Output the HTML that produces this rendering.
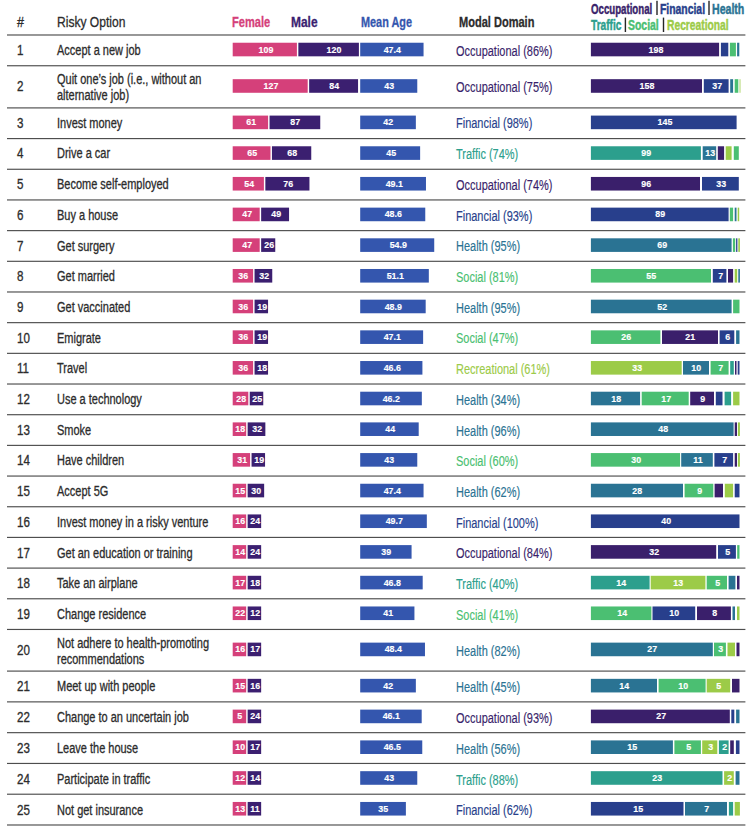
<!DOCTYPE html>
<html><head><meta charset="utf-8"><style>
html,body{margin:0;padding:0;background:#fff;}
body{width:753px;height:835px;position:relative;overflow:hidden;font-family:"Liberation Sans", sans-serif;}
.t{position:absolute;white-space:nowrap;line-height:1;transform-origin:0 0;-webkit-text-stroke:0.3px currentColor;}
.r{position:absolute;}
.lb{position:absolute;color:#fff;font-weight:bold;text-align:center;line-height:1;white-space:nowrap;}
.lb span{display:inline-block;transform:scaleX(0.93);-webkit-text-stroke:0.15px #fff;}
.ln{position:absolute;left:7px;width:738.4px;height:2px;background:#4d4d4d;}
</style></head><body>
<svg width="753" height="835" style="position:absolute;left:0;top:0" shape-rendering="geometricPrecision">
<rect x="7" y="34.42" width="738.4" height="1.15" fill="#4d4d4d"/>
<rect x="7" y="65.17" width="738.4" height="1.15" fill="#4d4d4d"/>
<rect x="7" y="107.33" width="738.4" height="1.15" fill="#4d4d4d"/>
<rect x="7" y="138.01" width="738.4" height="1.15" fill="#4d4d4d"/>
<rect x="7" y="168.69" width="738.4" height="1.15" fill="#4d4d4d"/>
<rect x="7" y="199.37" width="738.4" height="1.15" fill="#4d4d4d"/>
<rect x="7" y="230.05" width="738.4" height="1.15" fill="#4d4d4d"/>
<rect x="7" y="260.73" width="738.4" height="1.15" fill="#4d4d4d"/>
<rect x="7" y="291.41" width="738.4" height="1.15" fill="#4d4d4d"/>
<rect x="7" y="322.08" width="738.4" height="1.15" fill="#4d4d4d"/>
<rect x="7" y="352.77" width="738.4" height="1.15" fill="#4d4d4d"/>
<rect x="7" y="383.44" width="738.4" height="1.15" fill="#4d4d4d"/>
<rect x="7" y="414.13" width="738.4" height="1.15" fill="#4d4d4d"/>
<rect x="7" y="444.81" width="738.4" height="1.15" fill="#4d4d4d"/>
<rect x="7" y="475.48" width="738.4" height="1.15" fill="#4d4d4d"/>
<rect x="7" y="506.17" width="738.4" height="1.15" fill="#4d4d4d"/>
<rect x="7" y="536.84" width="738.4" height="1.15" fill="#4d4d4d"/>
<rect x="7" y="567.52" width="738.4" height="1.15" fill="#4d4d4d"/>
<rect x="7" y="598.20" width="738.4" height="1.15" fill="#4d4d4d"/>
<rect x="7" y="628.88" width="738.4" height="1.15" fill="#4d4d4d"/>
<rect x="7" y="670.52" width="738.4" height="1.15" fill="#4d4d4d"/>
<rect x="7" y="701.30" width="738.4" height="1.15" fill="#4d4d4d"/>
<rect x="7" y="732.09" width="738.4" height="1.15" fill="#4d4d4d"/>
<rect x="7" y="762.87" width="738.4" height="1.15" fill="#4d4d4d"/>
<rect x="7" y="793.64" width="738.4" height="1.15" fill="#4d4d4d"/>
<rect x="7" y="824.42" width="738.4" height="1.15" fill="#4d4d4d"/>
<rect x="656.3" y="0.8" width="1.4" height="14.2" fill="#262626"/>
<rect x="708.3" y="0.8" width="1.4" height="14.2" fill="#262626"/>
<rect x="624.7" y="17.6" width="1.4" height="14.399999999999999" fill="#262626"/>
<rect x="662.8" y="17.6" width="1.4" height="14.399999999999999" fill="#262626"/>
<rect x="232.70" y="42.73" width="64.20" height="13.60" fill="#d5407a"/>
<rect x="298.35" y="42.73" width="60.55" height="13.60" fill="#3b1f70"/>
<rect x="360.20" y="42.73" width="63.35" height="13.60" fill="#3456ae"/>
<rect x="590.90" y="42.73" width="128.20" height="13.60" fill="#3a1f6b"/>
<rect x="720.90" y="42.73" width="7.40" height="13.60" fill="#283f8c"/>
<rect x="729.90" y="42.73" width="6.00" height="13.60" fill="#4bbf72"/>
<rect x="737.10" y="42.73" width="2.20" height="13.60" fill="#2a7393"/>
<rect x="232.70" y="79.18" width="75.00" height="13.60" fill="#d5407a"/>
<rect x="309.15" y="79.18" width="48.90" height="13.60" fill="#3b1f70"/>
<rect x="360.20" y="79.18" width="57.07" height="13.60" fill="#3456ae"/>
<rect x="590.90" y="79.18" width="111.10" height="13.60" fill="#3a1f6b"/>
<rect x="703.80" y="79.18" width="24.80" height="13.60" fill="#283f8c"/>
<rect x="730.20" y="79.18" width="2.90" height="13.60" fill="#2a7393"/>
<rect x="734.70" y="79.18" width="3.60" height="13.60" fill="#4bbf72"/>
<rect x="739.60" y="79.18" width="0.80" height="13.60" fill="#9ccb48"/>
<rect x="232.70" y="115.59" width="35.40" height="13.60" fill="#d5407a"/>
<rect x="269.55" y="115.59" width="50.70" height="13.60" fill="#3b1f70"/>
<rect x="360.20" y="115.59" width="55.65" height="13.60" fill="#3456ae"/>
<rect x="590.90" y="115.59" width="145.70" height="13.60" fill="#283f8c"/>
<rect x="232.70" y="146.27" width="37.80" height="13.60" fill="#d5407a"/>
<rect x="271.95" y="146.27" width="39.30" height="13.60" fill="#3b1f70"/>
<rect x="360.20" y="146.27" width="59.93" height="13.60" fill="#3456ae"/>
<rect x="590.90" y="146.27" width="110.00" height="13.60" fill="#2c9f8d"/>
<rect x="702.70" y="146.27" width="13.50" height="13.60" fill="#2a7393"/>
<rect x="717.80" y="146.27" width="6.30" height="13.60" fill="#3a1f6b"/>
<rect x="725.70" y="146.27" width="5.90" height="13.60" fill="#9ccb48"/>
<rect x="733.80" y="146.27" width="5.00" height="13.60" fill="#4bbf72"/>
<rect x="232.70" y="176.95" width="31.20" height="13.60" fill="#d5407a"/>
<rect x="265.35" y="176.95" width="44.10" height="13.60" fill="#3b1f70"/>
<rect x="360.20" y="176.95" width="65.77" height="13.60" fill="#3456ae"/>
<rect x="590.90" y="176.95" width="109.10" height="13.60" fill="#3a1f6b"/>
<rect x="702.00" y="176.95" width="36.80" height="13.60" fill="#283f8c"/>
<rect x="232.70" y="207.63" width="27.00" height="13.60" fill="#d5407a"/>
<rect x="261.15" y="207.63" width="27.90" height="13.60" fill="#3b1f70"/>
<rect x="360.20" y="207.63" width="65.06" height="13.60" fill="#3456ae"/>
<rect x="590.90" y="207.63" width="137.70" height="13.60" fill="#283f8c"/>
<rect x="729.80" y="207.63" width="3.30" height="13.60" fill="#4bbf72"/>
<rect x="734.70" y="207.63" width="1.80" height="13.60" fill="#2a7393"/>
<rect x="737.70" y="207.63" width="1.50" height="13.60" fill="#9ccb48"/>
<rect x="232.70" y="238.31" width="27.00" height="13.60" fill="#d5407a"/>
<rect x="261.15" y="238.31" width="14.10" height="13.60" fill="#3b1f70"/>
<rect x="360.20" y="238.31" width="74.03" height="13.60" fill="#3456ae"/>
<rect x="590.90" y="238.31" width="140.70" height="13.60" fill="#2a7393"/>
<rect x="732.90" y="238.31" width="2.30" height="13.60" fill="#4bbf72"/>
<rect x="736.10" y="238.31" width="1.30" height="13.60" fill="#283f8c"/>
<rect x="738.30" y="238.31" width="1.60" height="13.60" fill="#9ccb48"/>
<rect x="232.70" y="268.99" width="20.40" height="13.60" fill="#d5407a"/>
<rect x="254.55" y="268.99" width="17.70" height="13.60" fill="#3b1f70"/>
<rect x="360.20" y="268.99" width="68.62" height="13.60" fill="#3456ae"/>
<rect x="590.90" y="268.99" width="120.10" height="13.60" fill="#4bbf72"/>
<rect x="712.80" y="268.99" width="13.60" height="13.60" fill="#283f8c"/>
<rect x="728.00" y="268.99" width="5.10" height="13.60" fill="#3a1f6b"/>
<rect x="734.70" y="268.99" width="2.50" height="13.60" fill="#9ccb48"/>
<rect x="738.30" y="268.99" width="1.60" height="13.60" fill="#2a7393"/>
<rect x="232.70" y="299.67" width="20.40" height="13.60" fill="#d5407a"/>
<rect x="254.55" y="299.67" width="13.50" height="13.60" fill="#3b1f70"/>
<rect x="360.20" y="299.67" width="65.48" height="13.60" fill="#3456ae"/>
<rect x="590.90" y="299.67" width="140.70" height="13.60" fill="#2a7393"/>
<rect x="733.10" y="299.67" width="6.40" height="13.60" fill="#4bbf72"/>
<rect x="232.70" y="330.35" width="20.40" height="13.60" fill="#d5407a"/>
<rect x="254.55" y="330.35" width="13.50" height="13.60" fill="#3b1f70"/>
<rect x="360.20" y="330.35" width="62.92" height="13.60" fill="#3456ae"/>
<rect x="590.90" y="330.35" width="69.50" height="13.60" fill="#4bbf72"/>
<rect x="662.00" y="330.35" width="56.00" height="13.60" fill="#3a1f6b"/>
<rect x="719.60" y="330.35" width="14.70" height="13.60" fill="#283f8c"/>
<rect x="736.10" y="330.35" width="3.40" height="13.60" fill="#2a7393"/>
<rect x="232.70" y="361.03" width="20.40" height="13.60" fill="#d5407a"/>
<rect x="254.55" y="361.03" width="13.50" height="13.60" fill="#3b1f70"/>
<rect x="360.20" y="361.03" width="62.21" height="13.60" fill="#3456ae"/>
<rect x="590.90" y="361.03" width="90.80" height="13.60" fill="#9ccb48"/>
<rect x="683.00" y="361.03" width="26.00" height="13.60" fill="#2a7393"/>
<rect x="710.60" y="361.03" width="18.00" height="13.60" fill="#4bbf72"/>
<rect x="730.20" y="361.03" width="3.60" height="13.60" fill="#2c9f8d"/>
<rect x="735.00" y="361.03" width="1.50" height="13.60" fill="#3a1f6b"/>
<rect x="737.70" y="361.03" width="1.80" height="13.60" fill="#283f8c"/>
<rect x="232.70" y="391.71" width="15.60" height="13.60" fill="#d5407a"/>
<rect x="249.75" y="391.71" width="13.50" height="13.60" fill="#3b1f70"/>
<rect x="360.20" y="391.71" width="61.63" height="13.60" fill="#3456ae"/>
<rect x="590.90" y="391.71" width="49.20" height="13.60" fill="#2a7393"/>
<rect x="641.70" y="391.71" width="47.00" height="13.60" fill="#4bbf72"/>
<rect x="690.20" y="391.71" width="23.80" height="13.60" fill="#3a1f6b"/>
<rect x="715.80" y="391.71" width="6.70" height="13.60" fill="#283f8c"/>
<rect x="724.60" y="391.71" width="6.50" height="13.60" fill="#2c9f8d"/>
<rect x="733.10" y="391.71" width="6.40" height="13.60" fill="#9ccb48"/>
<rect x="232.70" y="422.39" width="13.50" height="13.60" fill="#d5407a"/>
<rect x="247.65" y="422.39" width="17.70" height="13.60" fill="#3b1f70"/>
<rect x="360.20" y="422.39" width="58.50" height="13.60" fill="#3456ae"/>
<rect x="590.90" y="422.39" width="142.70" height="13.60" fill="#2a7393"/>
<rect x="734.70" y="422.39" width="2.30" height="13.60" fill="#3a1f6b"/>
<rect x="737.90" y="422.39" width="2.00" height="13.60" fill="#9ccb48"/>
<rect x="232.70" y="453.07" width="17.40" height="13.60" fill="#d5407a"/>
<rect x="251.55" y="453.07" width="13.50" height="13.60" fill="#3b1f70"/>
<rect x="360.20" y="453.07" width="57.07" height="13.60" fill="#3456ae"/>
<rect x="590.90" y="453.07" width="89.20" height="13.60" fill="#4bbf72"/>
<rect x="681.20" y="453.07" width="31.60" height="13.60" fill="#2a7393"/>
<rect x="714.40" y="453.07" width="18.70" height="13.60" fill="#283f8c"/>
<rect x="734.70" y="453.07" width="2.30" height="13.60" fill="#3a1f6b"/>
<rect x="737.90" y="453.07" width="2.00" height="13.60" fill="#9ccb48"/>
<rect x="232.70" y="483.75" width="13.50" height="13.60" fill="#d5407a"/>
<rect x="247.65" y="483.75" width="16.50" height="13.60" fill="#3b1f70"/>
<rect x="360.20" y="483.75" width="63.35" height="13.60" fill="#3456ae"/>
<rect x="590.90" y="483.75" width="92.10" height="13.60" fill="#2a7393"/>
<rect x="684.60" y="483.75" width="28.70" height="13.60" fill="#4bbf72"/>
<rect x="714.60" y="483.75" width="8.40" height="13.60" fill="#3a1f6b"/>
<rect x="724.80" y="483.75" width="8.30" height="13.60" fill="#9ccb48"/>
<rect x="734.70" y="483.75" width="4.80" height="13.60" fill="#283f8c"/>
<rect x="232.70" y="514.43" width="13.50" height="13.60" fill="#d5407a"/>
<rect x="247.65" y="514.43" width="13.50" height="13.60" fill="#3b1f70"/>
<rect x="360.20" y="514.43" width="66.62" height="13.60" fill="#3456ae"/>
<rect x="590.90" y="514.43" width="148.60" height="13.60" fill="#283f8c"/>
<rect x="232.70" y="545.11" width="13.50" height="13.60" fill="#d5407a"/>
<rect x="247.65" y="545.11" width="13.50" height="13.60" fill="#3b1f70"/>
<rect x="360.20" y="545.11" width="51.38" height="13.60" fill="#3456ae"/>
<rect x="590.90" y="545.11" width="125.30" height="13.60" fill="#3a1f6b"/>
<rect x="718.00" y="545.11" width="17.90" height="13.60" fill="#283f8c"/>
<rect x="737.20" y="545.11" width="2.30" height="13.60" fill="#4bbf72"/>
<rect x="232.70" y="575.79" width="13.50" height="13.60" fill="#d5407a"/>
<rect x="247.65" y="575.79" width="13.50" height="13.60" fill="#3b1f70"/>
<rect x="360.20" y="575.79" width="62.49" height="13.60" fill="#3456ae"/>
<rect x="590.90" y="575.79" width="58.70" height="13.60" fill="#2c9f8d"/>
<rect x="650.70" y="575.79" width="54.70" height="13.60" fill="#9ccb48"/>
<rect x="706.70" y="575.79" width="20.30" height="13.60" fill="#4bbf72"/>
<rect x="728.60" y="575.79" width="6.80" height="13.60" fill="#2a7393"/>
<rect x="737.00" y="575.79" width="2.50" height="13.60" fill="#3a1f6b"/>
<rect x="232.70" y="606.47" width="13.50" height="13.60" fill="#d5407a"/>
<rect x="247.65" y="606.47" width="13.50" height="13.60" fill="#3b1f70"/>
<rect x="360.20" y="606.47" width="54.23" height="13.60" fill="#3456ae"/>
<rect x="590.90" y="606.47" width="60.50" height="13.60" fill="#4bbf72"/>
<rect x="652.50" y="606.47" width="42.70" height="13.60" fill="#283f8c"/>
<rect x="697.00" y="606.47" width="33.90" height="13.60" fill="#3a1f6b"/>
<rect x="732.50" y="606.47" width="2.50" height="13.60" fill="#2a7393"/>
<rect x="737.00" y="606.47" width="2.50" height="13.60" fill="#9ccb48"/>
<rect x="232.70" y="642.63" width="13.50" height="13.60" fill="#d5407a"/>
<rect x="247.65" y="642.63" width="13.50" height="13.60" fill="#3b1f70"/>
<rect x="360.20" y="642.63" width="64.77" height="13.60" fill="#3456ae"/>
<rect x="590.90" y="642.63" width="121.90" height="13.60" fill="#2a7393"/>
<rect x="714.00" y="642.63" width="11.90" height="13.60" fill="#4bbf72"/>
<rect x="727.50" y="642.63" width="7.50" height="13.60" fill="#9ccb48"/>
<rect x="736.50" y="642.63" width="3.00" height="13.60" fill="#3a1f6b"/>
<rect x="232.70" y="678.84" width="13.50" height="13.60" fill="#d5407a"/>
<rect x="247.65" y="678.84" width="13.50" height="13.60" fill="#3b1f70"/>
<rect x="360.20" y="678.84" width="55.65" height="13.60" fill="#3456ae"/>
<rect x="590.90" y="678.84" width="66.10" height="13.60" fill="#2a7393"/>
<rect x="658.60" y="678.84" width="47.00" height="13.60" fill="#4bbf72"/>
<rect x="706.70" y="678.84" width="23.50" height="13.60" fill="#9ccb48"/>
<rect x="732.00" y="678.84" width="7.50" height="13.60" fill="#3a1f6b"/>
<rect x="232.70" y="709.62" width="13.50" height="13.60" fill="#d5407a"/>
<rect x="247.65" y="709.62" width="13.50" height="13.60" fill="#3b1f70"/>
<rect x="360.20" y="709.62" width="61.49" height="13.60" fill="#3456ae"/>
<rect x="590.90" y="709.62" width="138.90" height="13.60" fill="#3a1f6b"/>
<rect x="731.30" y="709.62" width="3.00" height="13.60" fill="#283f8c"/>
<rect x="736.10" y="709.62" width="3.40" height="13.60" fill="#2a7393"/>
<rect x="232.70" y="740.40" width="13.50" height="13.60" fill="#d5407a"/>
<rect x="247.65" y="740.40" width="13.50" height="13.60" fill="#3b1f70"/>
<rect x="360.20" y="740.40" width="62.06" height="13.60" fill="#3456ae"/>
<rect x="590.90" y="740.40" width="82.00" height="13.60" fill="#2a7393"/>
<rect x="674.40" y="740.40" width="26.50" height="13.60" fill="#4bbf72"/>
<rect x="702.20" y="740.40" width="15.10" height="13.60" fill="#9ccb48"/>
<rect x="718.90" y="740.40" width="9.70" height="13.60" fill="#2c9f8d"/>
<rect x="730.20" y="740.40" width="3.60" height="13.60" fill="#3a1f6b"/>
<rect x="735.90" y="740.40" width="3.60" height="13.60" fill="#283f8c"/>
<rect x="232.70" y="771.18" width="13.50" height="13.60" fill="#d5407a"/>
<rect x="247.65" y="771.18" width="13.50" height="13.60" fill="#3b1f70"/>
<rect x="360.20" y="771.18" width="57.07" height="13.60" fill="#3456ae"/>
<rect x="590.90" y="771.18" width="131.60" height="13.60" fill="#2c9f8d"/>
<rect x="724.10" y="771.18" width="9.70" height="13.60" fill="#9ccb48"/>
<rect x="735.60" y="771.18" width="3.90" height="13.60" fill="#2a7393"/>
<rect x="232.70" y="801.96" width="13.50" height="13.60" fill="#d5407a"/>
<rect x="247.65" y="801.96" width="13.50" height="13.60" fill="#3b1f70"/>
<rect x="360.20" y="801.96" width="45.68" height="13.60" fill="#3456ae"/>
<rect x="590.90" y="801.96" width="92.60" height="13.60" fill="#283f8c"/>
<rect x="685.00" y="801.96" width="42.00" height="13.60" fill="#2a7393"/>
<rect x="728.90" y="801.96" width="4.20" height="13.60" fill="#2c9f8d"/>
<rect x="734.70" y="801.96" width="5.20" height="13.60" fill="#9ccb48"/>
</svg>
<div class="t" style="left:17.00px;top:15.17px;font-size:14.8px;color:#2c2c2c;font-weight:normal;transform:scaleX(0.85);">#</div>
<div class="t" style="left:57.00px;top:15.17px;font-size:14.8px;color:#2c2c2c;font-weight:normal;transform:scaleX(0.816);">Risky Option</div>
<div class="t" style="left:232.30px;top:15.43px;font-size:14.5px;color:#d5407a;font-weight:bold;transform:scaleX(0.765);">Female</div>
<div class="t" style="left:291.10px;top:15.43px;font-size:14.5px;color:#3b1f70;font-weight:bold;transform:scaleX(0.824);">Male</div>
<div class="t" style="left:361.10px;top:15.43px;font-size:14.5px;color:#3456ae;font-weight:bold;transform:scaleX(0.75);">Mean Age</div>
<div class="t" style="left:458.60px;top:15.43px;font-size:14.5px;color:#2c2c2c;font-weight:bold;transform:scaleX(0.761);">Modal Domain</div>
<div class="t" style="left:590.60px;top:1.55px;font-size:14px;color:#3a1f6b;font-weight:bold;transform:scaleX(0.69);-webkit-text-stroke:0.45px currentColor;">Occupational</div>
<div class="t" style="left:659.90px;top:1.55px;font-size:14px;color:#283f8c;font-weight:bold;transform:scaleX(0.742);-webkit-text-stroke:0.45px currentColor;">Financial</div>
<div class="t" style="left:712.30px;top:1.55px;font-size:14px;color:#2a7393;font-weight:bold;transform:scaleX(0.755);-webkit-text-stroke:0.45px currentColor;">Health</div>
<div class="t" style="left:590.60px;top:17.95px;font-size:14px;color:#2c9f8d;font-weight:bold;transform:scaleX(0.725);-webkit-text-stroke:0.45px currentColor;">Traffic</div>
<div class="t" style="left:628.40px;top:17.95px;font-size:14px;color:#4bbf72;font-weight:bold;transform:scaleX(0.745);-webkit-text-stroke:0.45px currentColor;">Social</div>
<div class="t" style="left:666.80px;top:17.95px;font-size:14px;color:#9ccb48;font-weight:bold;transform:scaleX(0.734);-webkit-text-stroke:0.45px currentColor;">Recreational</div>
<div class="t" style="left:17.40px;top:43.73px;font-size:13.8px;color:#2c2c2c;font-weight:normal;transform:scaleX(0.84);">1</div>
<div class="t" style="left:56.60px;top:43.73px;font-size:13.8px;color:#2c2c2c;font-weight:normal;transform:scaleX(0.796);">Accept a new job</div>
<div class="lb" style="left:233.40px;top:44.58px;width:64.20px;font-size:9.5px"><span>109</span></div>
<div class="lb" style="left:299.05px;top:44.58px;width:70.50px;font-size:9.5px"><span>120</span></div>
<div class="lb" style="left:360.90px;top:44.58px;width:63.35px;font-size:9.5px"><span>47.4</span></div>
<div class="t" style="left:455.60px;top:44.53px;font-size:13.8px;color:#3a1f6b;font-weight:normal;transform:scaleX(0.796);-webkit-text-stroke:0.15px currentColor;">Occupational (86%)</div>
<div class="lb" style="left:591.60px;top:44.58px;width:128.20px;font-size:9.5px"><span>198</span></div>
<div class="t" style="left:17.40px;top:80.22px;font-size:13.8px;color:#2c2c2c;font-weight:normal;transform:scaleX(0.84);">2</div>
<div class="t" style="left:56.60px;top:73.27px;font-size:13.8px;color:#2c2c2c;font-weight:normal;transform:scaleX(0.796);">Quit one’s job (i.e., without an</div>
<div class="t" style="left:56.60px;top:89.32px;font-size:13.8px;color:#2c2c2c;font-weight:normal;transform:scaleX(0.796);">alternative job)</div>
<div class="lb" style="left:233.40px;top:81.03px;width:75.00px;font-size:9.5px"><span>127</span></div>
<div class="lb" style="left:309.85px;top:81.03px;width:48.90px;font-size:9.5px"><span>84</span></div>
<div class="lb" style="left:360.90px;top:81.03px;width:57.07px;font-size:9.5px"><span>43</span></div>
<div class="t" style="left:455.60px;top:81.02px;font-size:13.8px;color:#3a1f6b;font-weight:normal;transform:scaleX(0.796);-webkit-text-stroke:0.15px currentColor;">Occupational (75%)</div>
<div class="lb" style="left:591.60px;top:81.03px;width:111.10px;font-size:9.5px"><span>158</span></div>
<div class="lb" style="left:704.50px;top:81.03px;width:24.80px;font-size:9.5px"><span>37</span></div>
<div class="t" style="left:17.40px;top:116.66px;font-size:13.8px;color:#2c2c2c;font-weight:normal;transform:scaleX(0.84);">3</div>
<div class="t" style="left:56.60px;top:116.66px;font-size:13.8px;color:#2c2c2c;font-weight:normal;transform:scaleX(0.796);">Invest money</div>
<div class="lb" style="left:233.40px;top:117.45px;width:35.40px;font-size:9.5px"><span>61</span></div>
<div class="lb" style="left:270.25px;top:117.45px;width:50.70px;font-size:9.5px"><span>87</span></div>
<div class="lb" style="left:360.90px;top:117.45px;width:55.65px;font-size:9.5px"><span>42</span></div>
<div class="t" style="left:455.60px;top:117.46px;font-size:13.8px;color:#283f8c;font-weight:normal;transform:scaleX(0.796);-webkit-text-stroke:0.15px currentColor;">Financial (98%)</div>
<div class="lb" style="left:591.60px;top:117.45px;width:145.70px;font-size:9.5px"><span>145</span></div>
<div class="t" style="left:17.40px;top:147.37px;font-size:13.8px;color:#2c2c2c;font-weight:normal;transform:scaleX(0.84);">4</div>
<div class="t" style="left:56.60px;top:147.37px;font-size:13.8px;color:#2c2c2c;font-weight:normal;transform:scaleX(0.796);">Drive a car</div>
<div class="lb" style="left:233.40px;top:148.13px;width:37.80px;font-size:9.5px"><span>65</span></div>
<div class="lb" style="left:272.65px;top:148.13px;width:39.30px;font-size:9.5px"><span>68</span></div>
<div class="lb" style="left:360.90px;top:148.13px;width:59.93px;font-size:9.5px"><span>45</span></div>
<div class="t" style="left:455.60px;top:148.17px;font-size:13.8px;color:#2c9f8d;font-weight:normal;transform:scaleX(0.796);-webkit-text-stroke:0.15px currentColor;">Traffic (74%)</div>
<div class="lb" style="left:591.60px;top:148.13px;width:110.00px;font-size:9.5px"><span>99</span></div>
<div class="lb" style="left:703.40px;top:148.13px;width:13.50px;font-size:9.5px"><span>13</span></div>
<div class="t" style="left:17.40px;top:178.08px;font-size:13.8px;color:#2c2c2c;font-weight:normal;transform:scaleX(0.84);">5</div>
<div class="t" style="left:56.60px;top:178.08px;font-size:13.8px;color:#2c2c2c;font-weight:normal;transform:scaleX(0.796);">Become self-employed</div>
<div class="lb" style="left:233.40px;top:178.81px;width:31.20px;font-size:9.5px"><span>54</span></div>
<div class="lb" style="left:266.05px;top:178.81px;width:44.10px;font-size:9.5px"><span>76</span></div>
<div class="lb" style="left:360.90px;top:178.81px;width:65.77px;font-size:9.5px"><span>49.1</span></div>
<div class="t" style="left:455.60px;top:178.88px;font-size:13.8px;color:#3a1f6b;font-weight:normal;transform:scaleX(0.796);-webkit-text-stroke:0.15px currentColor;">Occupational (74%)</div>
<div class="lb" style="left:591.60px;top:178.81px;width:109.10px;font-size:9.5px"><span>96</span></div>
<div class="lb" style="left:702.70px;top:178.81px;width:36.80px;font-size:9.5px"><span>33</span></div>
<div class="t" style="left:17.40px;top:208.79px;font-size:13.8px;color:#2c2c2c;font-weight:normal;transform:scaleX(0.84);">6</div>
<div class="t" style="left:56.60px;top:208.79px;font-size:13.8px;color:#2c2c2c;font-weight:normal;transform:scaleX(0.796);">Buy a house</div>
<div class="lb" style="left:233.40px;top:209.49px;width:27.00px;font-size:9.5px"><span>47</span></div>
<div class="lb" style="left:261.85px;top:209.49px;width:27.90px;font-size:9.5px"><span>49</span></div>
<div class="lb" style="left:360.90px;top:209.49px;width:65.06px;font-size:9.5px"><span>48.6</span></div>
<div class="t" style="left:455.60px;top:209.59px;font-size:13.8px;color:#283f8c;font-weight:normal;transform:scaleX(0.796);-webkit-text-stroke:0.15px currentColor;">Financial (93%)</div>
<div class="lb" style="left:591.60px;top:209.49px;width:137.70px;font-size:9.5px"><span>89</span></div>
<div class="t" style="left:17.40px;top:239.50px;font-size:13.8px;color:#2c2c2c;font-weight:normal;transform:scaleX(0.84);">7</div>
<div class="t" style="left:56.60px;top:239.50px;font-size:13.8px;color:#2c2c2c;font-weight:normal;transform:scaleX(0.796);">Get surgery</div>
<div class="lb" style="left:233.40px;top:240.17px;width:27.00px;font-size:9.5px"><span>47</span></div>
<div class="lb" style="left:261.85px;top:240.17px;width:14.10px;font-size:9.5px"><span>26</span></div>
<div class="lb" style="left:360.90px;top:240.17px;width:74.03px;font-size:9.5px"><span>54.9</span></div>
<div class="t" style="left:455.60px;top:240.30px;font-size:13.8px;color:#2a7393;font-weight:normal;transform:scaleX(0.796);-webkit-text-stroke:0.15px currentColor;">Health (95%)</div>
<div class="lb" style="left:591.60px;top:240.17px;width:140.70px;font-size:9.5px"><span>69</span></div>
<div class="t" style="left:17.40px;top:270.20px;font-size:13.8px;color:#2c2c2c;font-weight:normal;transform:scaleX(0.84);">8</div>
<div class="t" style="left:56.60px;top:270.20px;font-size:13.8px;color:#2c2c2c;font-weight:normal;transform:scaleX(0.796);">Get married</div>
<div class="lb" style="left:233.40px;top:270.85px;width:20.40px;font-size:9.5px"><span>36</span></div>
<div class="lb" style="left:255.25px;top:270.85px;width:17.70px;font-size:9.5px"><span>32</span></div>
<div class="lb" style="left:360.90px;top:270.85px;width:68.62px;font-size:9.5px"><span>51.1</span></div>
<div class="t" style="left:455.60px;top:271.00px;font-size:13.8px;color:#4bbf72;font-weight:normal;transform:scaleX(0.796);-webkit-text-stroke:0.15px currentColor;">Social (81%)</div>
<div class="lb" style="left:591.60px;top:270.85px;width:120.10px;font-size:9.5px"><span>55</span></div>
<div class="lb" style="left:713.50px;top:270.85px;width:13.60px;font-size:9.5px"><span>7</span></div>
<div class="t" style="left:17.40px;top:300.91px;font-size:13.8px;color:#2c2c2c;font-weight:normal;transform:scaleX(0.84);">9</div>
<div class="t" style="left:56.60px;top:300.91px;font-size:13.8px;color:#2c2c2c;font-weight:normal;transform:scaleX(0.796);">Get vaccinated</div>
<div class="lb" style="left:233.40px;top:301.53px;width:20.40px;font-size:9.5px"><span>36</span></div>
<div class="lb" style="left:255.25px;top:301.53px;width:13.50px;font-size:9.5px"><span>19</span></div>
<div class="lb" style="left:360.90px;top:301.53px;width:65.48px;font-size:9.5px"><span>48.9</span></div>
<div class="t" style="left:455.60px;top:301.71px;font-size:13.8px;color:#2a7393;font-weight:normal;transform:scaleX(0.796);-webkit-text-stroke:0.15px currentColor;">Health (95%)</div>
<div class="lb" style="left:591.60px;top:301.53px;width:140.70px;font-size:9.5px"><span>52</span></div>
<div class="t" style="left:17.40px;top:331.62px;font-size:13.8px;color:#2c2c2c;font-weight:normal;transform:scaleX(0.84);">10</div>
<div class="t" style="left:56.60px;top:331.62px;font-size:13.8px;color:#2c2c2c;font-weight:normal;transform:scaleX(0.796);">Emigrate</div>
<div class="lb" style="left:233.40px;top:332.21px;width:20.40px;font-size:9.5px"><span>36</span></div>
<div class="lb" style="left:255.25px;top:332.21px;width:13.50px;font-size:9.5px"><span>19</span></div>
<div class="lb" style="left:360.90px;top:332.21px;width:62.92px;font-size:9.5px"><span>47.1</span></div>
<div class="t" style="left:455.60px;top:332.42px;font-size:13.8px;color:#4bbf72;font-weight:normal;transform:scaleX(0.796);-webkit-text-stroke:0.15px currentColor;">Social (47%)</div>
<div class="lb" style="left:591.60px;top:332.21px;width:69.50px;font-size:9.5px"><span>26</span></div>
<div class="lb" style="left:662.70px;top:332.21px;width:56.00px;font-size:9.5px"><span>21</span></div>
<div class="lb" style="left:720.30px;top:332.21px;width:14.70px;font-size:9.5px"><span>6</span></div>
<div class="t" style="left:17.40px;top:362.33px;font-size:13.8px;color:#2c2c2c;font-weight:normal;transform:scaleX(0.84);">11</div>
<div class="t" style="left:56.60px;top:362.33px;font-size:13.8px;color:#2c2c2c;font-weight:normal;transform:scaleX(0.796);">Travel</div>
<div class="lb" style="left:233.40px;top:362.89px;width:20.40px;font-size:9.5px"><span>36</span></div>
<div class="lb" style="left:255.25px;top:362.89px;width:13.50px;font-size:9.5px"><span>18</span></div>
<div class="lb" style="left:360.90px;top:362.89px;width:62.21px;font-size:9.5px"><span>46.6</span></div>
<div class="t" style="left:455.60px;top:363.13px;font-size:13.8px;color:#9ccb48;font-weight:normal;transform:scaleX(0.796);-webkit-text-stroke:0.15px currentColor;">Recreational (61%)</div>
<div class="lb" style="left:591.60px;top:362.89px;width:90.80px;font-size:9.5px"><span>33</span></div>
<div class="lb" style="left:683.70px;top:362.89px;width:26.00px;font-size:9.5px"><span>10</span></div>
<div class="lb" style="left:711.30px;top:362.89px;width:18.00px;font-size:9.5px"><span>7</span></div>
<div class="t" style="left:17.40px;top:393.03px;font-size:13.8px;color:#2c2c2c;font-weight:normal;transform:scaleX(0.84);">12</div>
<div class="t" style="left:56.60px;top:393.03px;font-size:13.8px;color:#2c2c2c;font-weight:normal;transform:scaleX(0.796);">Use a technology</div>
<div class="lb" style="left:233.40px;top:393.57px;width:15.60px;font-size:9.5px"><span>28</span></div>
<div class="lb" style="left:250.45px;top:393.57px;width:13.50px;font-size:9.5px"><span>25</span></div>
<div class="lb" style="left:360.90px;top:393.57px;width:61.63px;font-size:9.5px"><span>46.2</span></div>
<div class="t" style="left:455.60px;top:393.83px;font-size:13.8px;color:#2a7393;font-weight:normal;transform:scaleX(0.796);-webkit-text-stroke:0.15px currentColor;">Health (34%)</div>
<div class="lb" style="left:591.60px;top:393.57px;width:49.20px;font-size:9.5px"><span>18</span></div>
<div class="lb" style="left:642.40px;top:393.57px;width:47.00px;font-size:9.5px"><span>17</span></div>
<div class="lb" style="left:690.90px;top:393.57px;width:23.80px;font-size:9.5px"><span>9</span></div>
<div class="t" style="left:17.40px;top:423.74px;font-size:13.8px;color:#2c2c2c;font-weight:normal;transform:scaleX(0.84);">13</div>
<div class="t" style="left:56.60px;top:423.74px;font-size:13.8px;color:#2c2c2c;font-weight:normal;transform:scaleX(0.796);">Smoke</div>
<div class="lb" style="left:233.40px;top:424.25px;width:13.50px;font-size:9.5px"><span>18</span></div>
<div class="lb" style="left:248.35px;top:424.25px;width:17.70px;font-size:9.5px"><span>32</span></div>
<div class="lb" style="left:360.90px;top:424.25px;width:58.50px;font-size:9.5px"><span>44</span></div>
<div class="t" style="left:455.60px;top:424.54px;font-size:13.8px;color:#2a7393;font-weight:normal;transform:scaleX(0.796);-webkit-text-stroke:0.15px currentColor;">Health (96%)</div>
<div class="lb" style="left:591.60px;top:424.25px;width:142.70px;font-size:9.5px"><span>48</span></div>
<div class="t" style="left:17.40px;top:454.45px;font-size:13.8px;color:#2c2c2c;font-weight:normal;transform:scaleX(0.84);">14</div>
<div class="t" style="left:56.60px;top:454.45px;font-size:13.8px;color:#2c2c2c;font-weight:normal;transform:scaleX(0.796);">Have children</div>
<div class="lb" style="left:233.40px;top:454.93px;width:17.40px;font-size:9.5px"><span>31</span></div>
<div class="lb" style="left:252.25px;top:454.93px;width:13.50px;font-size:9.5px"><span>19</span></div>
<div class="lb" style="left:360.90px;top:454.93px;width:57.07px;font-size:9.5px"><span>43</span></div>
<div class="t" style="left:455.60px;top:455.25px;font-size:13.8px;color:#4bbf72;font-weight:normal;transform:scaleX(0.796);-webkit-text-stroke:0.15px currentColor;">Social (60%)</div>
<div class="lb" style="left:591.60px;top:454.93px;width:89.20px;font-size:9.5px"><span>30</span></div>
<div class="lb" style="left:681.90px;top:454.93px;width:31.60px;font-size:9.5px"><span>11</span></div>
<div class="lb" style="left:715.10px;top:454.93px;width:18.70px;font-size:9.5px"><span>7</span></div>
<div class="t" style="left:17.40px;top:485.16px;font-size:13.8px;color:#2c2c2c;font-weight:normal;transform:scaleX(0.84);">15</div>
<div class="t" style="left:56.60px;top:485.16px;font-size:13.8px;color:#2c2c2c;font-weight:normal;transform:scaleX(0.796);">Accept 5G</div>
<div class="lb" style="left:233.40px;top:485.61px;width:13.50px;font-size:9.5px"><span>15</span></div>
<div class="lb" style="left:248.35px;top:485.61px;width:16.50px;font-size:9.5px"><span>30</span></div>
<div class="lb" style="left:360.90px;top:485.61px;width:63.35px;font-size:9.5px"><span>47.4</span></div>
<div class="t" style="left:455.60px;top:485.96px;font-size:13.8px;color:#2a7393;font-weight:normal;transform:scaleX(0.796);-webkit-text-stroke:0.15px currentColor;">Health (62%)</div>
<div class="lb" style="left:591.60px;top:485.61px;width:92.10px;font-size:9.5px"><span>28</span></div>
<div class="lb" style="left:685.30px;top:485.61px;width:28.70px;font-size:9.5px"><span>9</span></div>
<div class="t" style="left:17.40px;top:515.86px;font-size:13.8px;color:#2c2c2c;font-weight:normal;transform:scaleX(0.84);">16</div>
<div class="t" style="left:56.60px;top:515.86px;font-size:13.8px;color:#2c2c2c;font-weight:normal;transform:scaleX(0.796);">Invest money in a risky venture</div>
<div class="lb" style="left:233.40px;top:516.29px;width:13.50px;font-size:9.5px"><span>16</span></div>
<div class="lb" style="left:248.35px;top:516.29px;width:13.50px;font-size:9.5px"><span>24</span></div>
<div class="lb" style="left:360.90px;top:516.29px;width:66.62px;font-size:9.5px"><span>49.7</span></div>
<div class="t" style="left:455.60px;top:516.66px;font-size:13.8px;color:#283f8c;font-weight:normal;transform:scaleX(0.796);-webkit-text-stroke:0.15px currentColor;">Financial (100%)</div>
<div class="lb" style="left:591.60px;top:516.29px;width:148.60px;font-size:9.5px"><span>40</span></div>
<div class="t" style="left:17.40px;top:546.57px;font-size:13.8px;color:#2c2c2c;font-weight:normal;transform:scaleX(0.84);">17</div>
<div class="t" style="left:56.60px;top:546.57px;font-size:13.8px;color:#2c2c2c;font-weight:normal;transform:scaleX(0.796);">Get an education or training</div>
<div class="lb" style="left:233.40px;top:546.97px;width:13.50px;font-size:9.5px"><span>14</span></div>
<div class="lb" style="left:248.35px;top:546.97px;width:13.50px;font-size:9.5px"><span>24</span></div>
<div class="lb" style="left:360.90px;top:546.97px;width:51.38px;font-size:9.5px"><span>39</span></div>
<div class="t" style="left:455.60px;top:547.37px;font-size:13.8px;color:#3a1f6b;font-weight:normal;transform:scaleX(0.796);-webkit-text-stroke:0.15px currentColor;">Occupational (84%)</div>
<div class="lb" style="left:591.60px;top:546.97px;width:125.30px;font-size:9.5px"><span>32</span></div>
<div class="lb" style="left:718.70px;top:546.97px;width:17.90px;font-size:9.5px"><span>5</span></div>
<div class="t" style="left:17.40px;top:577.28px;font-size:13.8px;color:#2c2c2c;font-weight:normal;transform:scaleX(0.84);">18</div>
<div class="t" style="left:56.60px;top:577.28px;font-size:13.8px;color:#2c2c2c;font-weight:normal;transform:scaleX(0.796);">Take an airplane</div>
<div class="lb" style="left:233.40px;top:577.65px;width:13.50px;font-size:9.5px"><span>17</span></div>
<div class="lb" style="left:248.35px;top:577.65px;width:13.50px;font-size:9.5px"><span>18</span></div>
<div class="lb" style="left:360.90px;top:577.65px;width:62.49px;font-size:9.5px"><span>46.8</span></div>
<div class="t" style="left:455.60px;top:578.08px;font-size:13.8px;color:#2c9f8d;font-weight:normal;transform:scaleX(0.796);-webkit-text-stroke:0.15px currentColor;">Traffic (40%)</div>
<div class="lb" style="left:591.60px;top:577.65px;width:58.70px;font-size:9.5px"><span>14</span></div>
<div class="lb" style="left:651.40px;top:577.65px;width:54.70px;font-size:9.5px"><span>13</span></div>
<div class="lb" style="left:707.40px;top:577.65px;width:20.30px;font-size:9.5px"><span>5</span></div>
<div class="t" style="left:17.40px;top:607.99px;font-size:13.8px;color:#2c2c2c;font-weight:normal;transform:scaleX(0.84);">19</div>
<div class="t" style="left:56.60px;top:607.99px;font-size:13.8px;color:#2c2c2c;font-weight:normal;transform:scaleX(0.796);">Change residence</div>
<div class="lb" style="left:233.40px;top:608.33px;width:13.50px;font-size:9.5px"><span>22</span></div>
<div class="lb" style="left:248.35px;top:608.33px;width:13.50px;font-size:9.5px"><span>12</span></div>
<div class="lb" style="left:360.90px;top:608.33px;width:54.23px;font-size:9.5px"><span>41</span></div>
<div class="t" style="left:455.60px;top:608.79px;font-size:13.8px;color:#4bbf72;font-weight:normal;transform:scaleX(0.796);-webkit-text-stroke:0.15px currentColor;">Social (41%)</div>
<div class="lb" style="left:591.60px;top:608.33px;width:60.50px;font-size:9.5px"><span>14</span></div>
<div class="lb" style="left:653.20px;top:608.33px;width:42.70px;font-size:9.5px"><span>10</span></div>
<div class="lb" style="left:697.70px;top:608.33px;width:33.90px;font-size:9.5px"><span>8</span></div>
<div class="t" style="left:17.40px;top:644.18px;font-size:13.8px;color:#2c2c2c;font-weight:normal;transform:scaleX(0.84);">20</div>
<div class="t" style="left:56.60px;top:636.98px;font-size:13.8px;color:#2c2c2c;font-weight:normal;transform:scaleX(0.796);">Not adhere to health-promoting</div>
<div class="t" style="left:56.60px;top:653.03px;font-size:13.8px;color:#2c2c2c;font-weight:normal;transform:scaleX(0.796);">recommendations</div>
<div class="lb" style="left:233.40px;top:644.49px;width:13.50px;font-size:9.5px"><span>16</span></div>
<div class="lb" style="left:248.35px;top:644.49px;width:13.50px;font-size:9.5px"><span>17</span></div>
<div class="lb" style="left:360.90px;top:644.49px;width:64.77px;font-size:9.5px"><span>48.4</span></div>
<div class="t" style="left:455.60px;top:644.98px;font-size:13.8px;color:#2a7393;font-weight:normal;transform:scaleX(0.796);-webkit-text-stroke:0.15px currentColor;">Health (82%)</div>
<div class="lb" style="left:591.60px;top:644.49px;width:121.90px;font-size:9.5px"><span>27</span></div>
<div class="lb" style="left:714.70px;top:644.49px;width:11.90px;font-size:9.5px"><span>3</span></div>
<div class="t" style="left:17.40px;top:680.42px;font-size:13.8px;color:#2c2c2c;font-weight:normal;transform:scaleX(0.84);">21</div>
<div class="t" style="left:56.60px;top:680.42px;font-size:13.8px;color:#2c2c2c;font-weight:normal;transform:scaleX(0.796);">Meet up with people</div>
<div class="lb" style="left:233.40px;top:680.70px;width:13.50px;font-size:9.5px"><span>15</span></div>
<div class="lb" style="left:248.35px;top:680.70px;width:13.50px;font-size:9.5px"><span>16</span></div>
<div class="lb" style="left:360.90px;top:680.70px;width:55.65px;font-size:9.5px"><span>42</span></div>
<div class="t" style="left:455.60px;top:681.22px;font-size:13.8px;color:#2a7393;font-weight:normal;transform:scaleX(0.796);-webkit-text-stroke:0.15px currentColor;">Health (45%)</div>
<div class="lb" style="left:591.60px;top:680.70px;width:66.10px;font-size:9.5px"><span>14</span></div>
<div class="lb" style="left:659.30px;top:680.70px;width:47.00px;font-size:9.5px"><span>10</span></div>
<div class="lb" style="left:707.40px;top:680.70px;width:23.50px;font-size:9.5px"><span>5</span></div>
<div class="t" style="left:17.40px;top:711.23px;font-size:13.8px;color:#2c2c2c;font-weight:normal;transform:scaleX(0.84);">22</div>
<div class="t" style="left:56.60px;top:711.23px;font-size:13.8px;color:#2c2c2c;font-weight:normal;transform:scaleX(0.796);">Change to an uncertain job</div>
<div class="lb" style="left:233.40px;top:711.48px;width:13.50px;font-size:9.5px"><span>5</span></div>
<div class="lb" style="left:248.35px;top:711.48px;width:13.50px;font-size:9.5px"><span>24</span></div>
<div class="lb" style="left:360.90px;top:711.48px;width:61.49px;font-size:9.5px"><span>46.1</span></div>
<div class="t" style="left:455.60px;top:712.03px;font-size:13.8px;color:#3a1f6b;font-weight:normal;transform:scaleX(0.796);-webkit-text-stroke:0.15px currentColor;">Occupational (93%)</div>
<div class="lb" style="left:591.60px;top:711.48px;width:138.90px;font-size:9.5px"><span>27</span></div>
<div class="t" style="left:17.40px;top:742.04px;font-size:13.8px;color:#2c2c2c;font-weight:normal;transform:scaleX(0.84);">23</div>
<div class="t" style="left:56.60px;top:742.04px;font-size:13.8px;color:#2c2c2c;font-weight:normal;transform:scaleX(0.796);">Leave the house</div>
<div class="lb" style="left:233.40px;top:742.26px;width:13.50px;font-size:9.5px"><span>10</span></div>
<div class="lb" style="left:248.35px;top:742.26px;width:13.50px;font-size:9.5px"><span>17</span></div>
<div class="lb" style="left:360.90px;top:742.26px;width:62.06px;font-size:9.5px"><span>46.5</span></div>
<div class="t" style="left:455.60px;top:742.84px;font-size:13.8px;color:#2a7393;font-weight:normal;transform:scaleX(0.796);-webkit-text-stroke:0.15px currentColor;">Health (56%)</div>
<div class="lb" style="left:591.60px;top:742.26px;width:82.00px;font-size:9.5px"><span>15</span></div>
<div class="lb" style="left:675.10px;top:742.26px;width:26.50px;font-size:9.5px"><span>5</span></div>
<div class="lb" style="left:702.90px;top:742.26px;width:15.10px;font-size:9.5px"><span>3</span></div>
<div class="lb" style="left:719.60px;top:742.26px;width:9.70px;font-size:9.5px"><span>2</span></div>
<div class="t" style="left:17.40px;top:772.84px;font-size:13.8px;color:#2c2c2c;font-weight:normal;transform:scaleX(0.84);">24</div>
<div class="t" style="left:56.60px;top:772.84px;font-size:13.8px;color:#2c2c2c;font-weight:normal;transform:scaleX(0.796);">Participate in traffic</div>
<div class="lb" style="left:233.40px;top:773.04px;width:13.50px;font-size:9.5px"><span>12</span></div>
<div class="lb" style="left:248.35px;top:773.04px;width:13.50px;font-size:9.5px"><span>14</span></div>
<div class="lb" style="left:360.90px;top:773.04px;width:57.07px;font-size:9.5px"><span>43</span></div>
<div class="t" style="left:455.60px;top:773.64px;font-size:13.8px;color:#2c9f8d;font-weight:normal;transform:scaleX(0.796);-webkit-text-stroke:0.15px currentColor;">Traffic (88%)</div>
<div class="lb" style="left:591.60px;top:773.04px;width:131.60px;font-size:9.5px"><span>23</span></div>
<div class="lb" style="left:724.80px;top:773.04px;width:9.70px;font-size:9.5px"><span>2</span></div>
<div class="t" style="left:17.40px;top:803.65px;font-size:13.8px;color:#2c2c2c;font-weight:normal;transform:scaleX(0.84);">25</div>
<div class="t" style="left:56.60px;top:803.65px;font-size:13.8px;color:#2c2c2c;font-weight:normal;transform:scaleX(0.796);">Not get insurance</div>
<div class="lb" style="left:233.40px;top:803.82px;width:13.50px;font-size:9.5px"><span>13</span></div>
<div class="lb" style="left:248.35px;top:803.82px;width:13.50px;font-size:9.5px"><span>11</span></div>
<div class="lb" style="left:360.90px;top:803.82px;width:45.68px;font-size:9.5px"><span>35</span></div>
<div class="t" style="left:455.60px;top:804.45px;font-size:13.8px;color:#283f8c;font-weight:normal;transform:scaleX(0.796);-webkit-text-stroke:0.15px currentColor;">Financial (62%)</div>
<div class="lb" style="left:591.60px;top:803.82px;width:92.60px;font-size:9.5px"><span>15</span></div>
<div class="lb" style="left:685.70px;top:803.82px;width:42.00px;font-size:9.5px"><span>7</span></div>
</body></html>
